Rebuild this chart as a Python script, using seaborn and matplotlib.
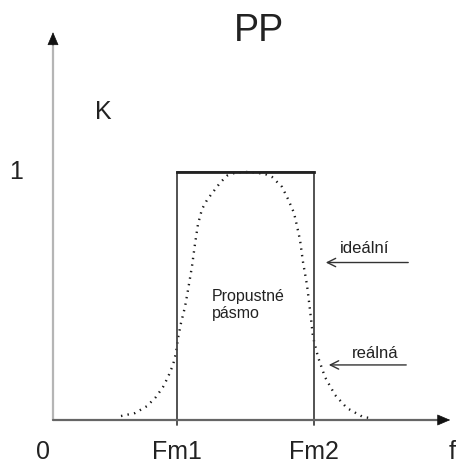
import seaborn as sns
import matplotlib.pyplot as plt
import pandas as pd
import numpy as np

sns.set_theme(style='white')
plt.rcParams['font.family'] = ['Liberation Sans', 'DejaVu Sans']

# band edges and ideal gain
fm1 = 1.24
fm2 = 2.61
gain = 1.0

real_f = [0.68, 0.82, 0.94, 1.03, 1.10, 1.15, 1.20, 1.23, 1.25, 1.28, 1.32, 1.35,
          1.39, 1.42, 1.45, 1.49, 1.54, 1.60, 1.67, 1.74, 1.82, 1.90, 1.98, 2.05,
          2.12, 2.19, 2.29, 2.35, 2.41, 2.44, 2.47, 2.50, 2.54, 2.57, 2.60, 2.65,
          2.72, 2.82, 2.94, 3.10, 3.17]
real_k = [0.016, 0.028, 0.056, 0.093, 0.133, 0.173, 0.222, 0.270, 0.330, 0.391,
          0.456, 0.524, 0.620, 0.710, 0.790, 0.850, 0.887, 0.919, 0.956, 0.985,
          0.997, 1.0, 1.0, 0.996, 0.992, 0.980, 0.940, 0.891, 0.835, 0.782, 0.726,
          0.637, 0.544, 0.444, 0.335, 0.254, 0.173, 0.101, 0.048, 0.012, 0.008]

ideal_f = [fm1, fm1, fm2, fm2]
ideal_k = [-0.02, gain, gain, -0.02]

x_ticks = [0, fm1, fm2, 3.99]
x_labels = ['0', 'Fm1', 'Fm2', 'f']


def main():
    fig = plt.figure(figsize=(4.61, 4.63), dpi=100)
    ax = fig.add_axes([0, 0, 1, 1])
    ax.set_xlim(-0.53, 4.08)
    ax.set_ylim(-0.1734, 1.6935)
    ax.axis('off')

    real = pd.DataFrame({'f': real_f, 'k': real_k})
    sns.lineplot(ax=ax, data=real, x='f', y='k', sort=False, estimator=None,
                 color='#1a1a1a', lw=1.7, linestyle=(0, (0.6, 2.2)))

    ideal = pd.DataFrame({'f': ideal_f, 'k': ideal_k})
    sns.lineplot(ax=ax, data=ideal, x='f', y='k', sort=False, estimator=None,
                 color='#444444', lw=1.3)
    ax.plot([fm1, fm2], [gain, gain], color='#222222', lw=2.0, solid_capstyle='projecting')

    # axes with arrows
    ax.plot([0, 0], [0, 1.52], color='#b5b5b5', lw=1.6)
    ax.annotate('', xy=(0, 1.575), xytext=(0, 1.50),
                arrowprops=dict(arrowstyle='-|>,head_length=0.7,head_width=0.3',
                                color='#111111', lw=0.5))
    ax.plot([0, 3.88], [0, 0], color='#666666', lw=1.6)
    ax.annotate('', xy=(4.0, 0), xytext=(3.85, 0),
                arrowprops=dict(arrowstyle='-|>,head_length=0.7,head_width=0.3',
                                color='#111111', lw=0.5))

    for x, lab in zip(x_ticks, x_labels):
        ax.text(x if lab != '0' else -0.10, -0.13, lab, ha='center', va='center',
                fontsize=18, color='#222222')
    ax.text(-0.37, 1.0, '1', ha='center', va='center', fontsize=18, color='#222222')
    ax.text(0.50, 1.24, 'K', ha='center', va='center', fontsize=18, color='#222222')
    ax.text(2.06, 1.57, 'PP', ha='center', va='center', fontsize=27, color='#222222')

    ax.text(1.59, 0.465, 'Propustné\npásmo', ha='left', va='center', fontsize=11.5,
            color='#222222', linespacing=1.15)

    ax.text(3.12, 0.69, 'ideální', ha='center', va='center', fontsize=12, color='#222222')
    ax.annotate('', xy=(2.70, 0.635), xytext=(3.58, 0.635),
                arrowprops=dict(arrowstyle='->,head_length=0.5,head_width=0.25',
                                color='#333333', lw=1.0))
    ax.text(3.22, 0.27, 'reálná', ha='center', va='center', fontsize=12, color='#222222')
    ax.annotate('', xy=(2.73, 0.222), xytext=(3.56, 0.222),
                arrowprops=dict(arrowstyle='->,head_length=0.5,head_width=0.25',
                                color='#333333', lw=1.0))

    fig.savefig('out.png', dpi=100)


if __name__ == '__main__':
    main()
